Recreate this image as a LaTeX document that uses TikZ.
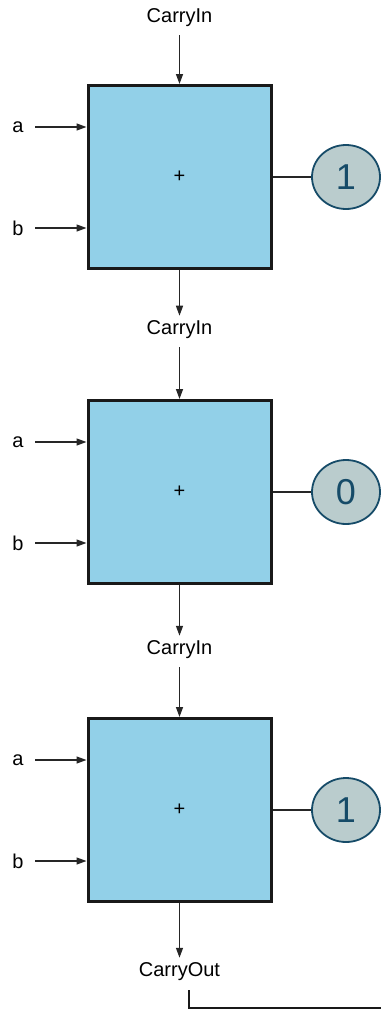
\documentclass[tikz,border=0pt]{standalone}
\usepackage{fontspec}
\setmainfont{Liberation Sans}
\usetikzlibrary{arrows.meta,shapes.geometric}
\definecolor{boxblue}{RGB}{146,208,232}
\definecolor{circfill}{RGB}{186,204,205}
\definecolor{circline}{RGB}{22,75,104}
\tikzset{
  adder/.style={draw=black!90, line width=3pt, fill=boxblue, minimum width=183pt, minimum height=183pt, inner sep=0pt, font=\fontsize{20}{22}\selectfont},
  lbl/.style={inner sep=0pt, font=\fontsize{20}{22}\selectfont},
  result/.style={ellipse, draw=circline, line width=1.8pt, fill=circfill, text=circline, minimum width=68pt, minimum height=64pt, inner sep=0pt, font=\fontsize{36}{38}\selectfont},
  sig/.style={line width=1.3pt, draw=black!85, -{Triangle[length=10pt,width=7pt]}},
  wire/.style={line width=1.3pt, draw=black!85},
}
\begin{document}
\begin{tikzpicture}[x=1pt,y=-1pt]
\useasboundingbox (0,0) rectangle (381,1012);
\foreach \i/\cy/\ciy/\v in {1/177/18/1, 2/492/330/0, 3/810/650/1}{
  \node[adder] (box\i) at (179.5,\cy) {+};
  \node[lbl] (cin\i) at (179.5,\ciy) {CarryIn};
  \node[lbl] (a\i) at (18,\cy-50) {a};
  \node[lbl] (b\i) at (18,\cy+51) {b};
  \node[result] (r\i) at (346,\cy) {\v};
  \coordinate (as\i) at (35,\cy-50);
  \coordinate (bs\i) at (35,\cy+51);
  \draw[sig] (as\i) -- (as\i -| box\i.west);
  \draw[sig] (bs\i) -- (bs\i -| box\i.west);
  \draw[sig] ([yshift=-8pt]cin\i.south) -- (box\i.north);
  \draw[wire] (box\i.east) -- (r\i.west);
}
\node[lbl] (cout) at (179.5,972) {CarryOut};
\draw[sig] (box1.south) -- ([yshift=5pt]cin2.north);
\draw[sig] (box2.south) -- ([yshift=5pt]cin3.north);
\draw[sig] (box3.south) -- ([yshift=5pt]cout.north);
\coordinate (c1) at (188.5,990);
\coordinate (c2) at (188.5,1008);
\coordinate (c3) at (381,1008);
\draw[line width=2pt, draw=black!90] (c1) -- (c2) -- (c3);
\end{tikzpicture}
\end{document}
